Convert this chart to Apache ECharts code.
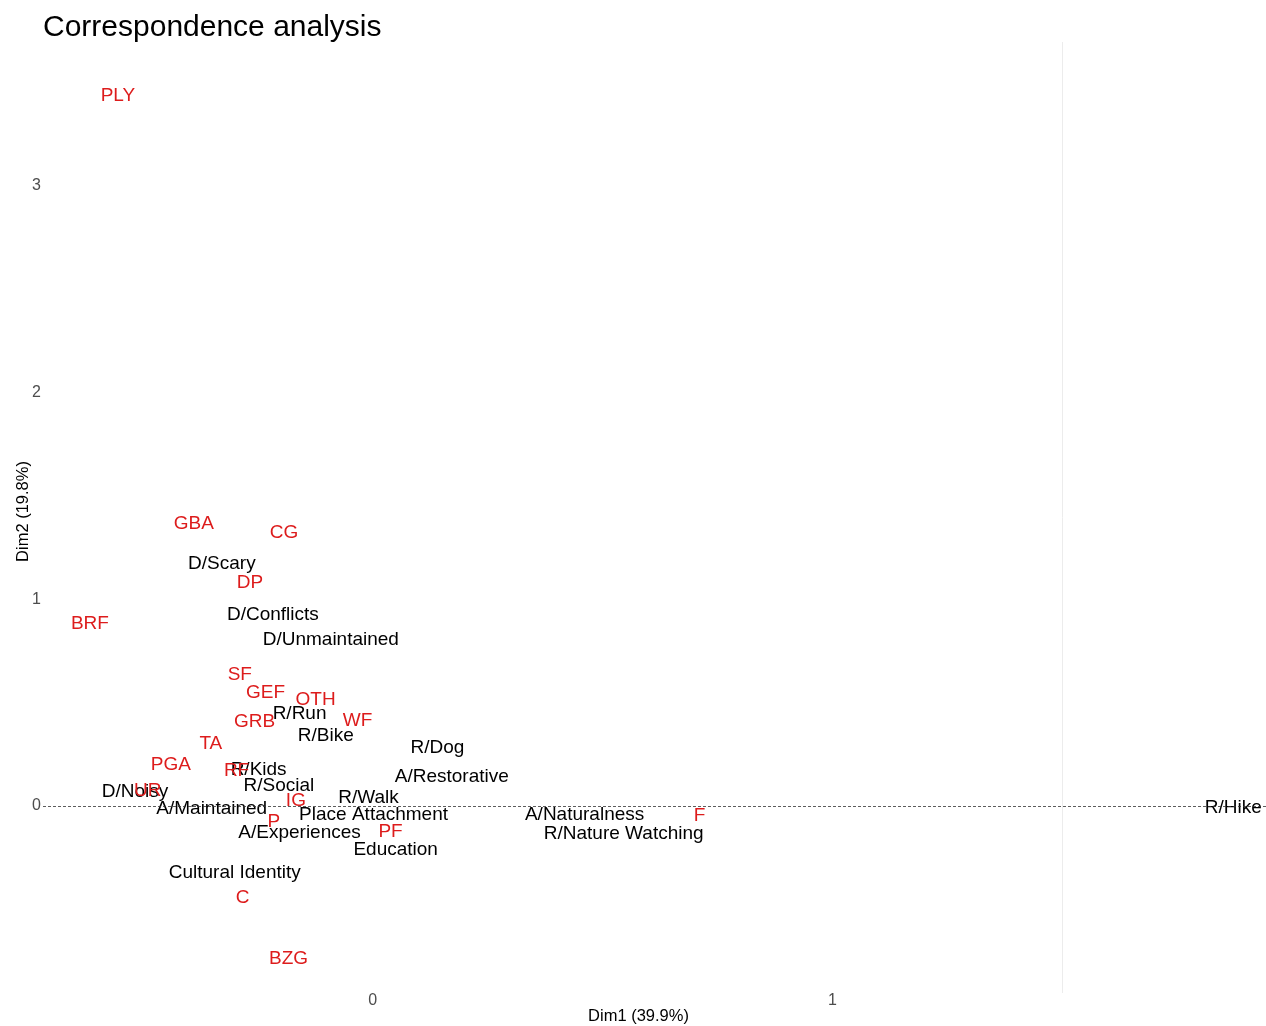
<!DOCTYPE html>
<html>
<head>
<meta charset="utf-8">
<script src="https://cdn.jsdelivr.net/npm/echarts@6/dist/echarts.min.js"></script>
<style>html,body{margin:0;padding:0;background:#fff;}#c{width:1266px;height:1026px;}</style>
</head>
<body>
<div id="c"></div>
<script>
// Red group (row points)
var redLabels = ['PLY','GBA','CG','DP','BRF','SF','GEF','OTH','GRB','WF','TA','PGA','RF','UR','IG','P','PF','F','C','BZG'];
var redDim1 = [-0.554,-0.389,-0.193,-0.267,-0.615,-0.289,-0.233,-0.124,-0.257,-0.033,-0.352,-0.439,-0.296,-0.489,-0.167,-0.215,0.039,0.711,-0.283,-0.183];
var redDim2 = [3.445,1.374,1.330,1.089,0.890,0.643,0.556,0.523,0.416,0.421,0.310,0.208,0.179,0.082,0.034,-0.068,-0.116,-0.039,-0.435,-0.731];
// Black group (column points)
var blackLabels = ['D/Scary','D/Conflicts','D/Unmaintained','R/Run','R/Bike','R/Dog','A/Restorative','R/Kids','R/Social','D/Noisy','R/Walk','A/Maintained','Place Attachment','A/Naturalness','A/Experiences','R/Nature Watching','Education','Cultural Identity','R/Hike'];
var blackDim1 = [-0.328,-0.217,-0.091,-0.159,-0.102,0.141,0.172,-0.248,-0.204,-0.517,-0.009,-0.350,0.002,0.461,-0.159,0.546,0.050,-0.300,1.872];
var blackDim2 = [1.180,0.934,0.813,0.455,0.348,0.290,0.150,0.184,0.106,0.077,0.048,-0.005,-0.034,-0.034,-0.121,-0.126,-0.203,-0.314,0.000];
var xTicks = [0, 1];
var yTicks = [0, 1, 2, 3];

function pts(lbl, xs, ys) {
  return lbl.map(function (l, i) { return { name: l, value: [xs[i], ys[i]] }; });
}
var FONT = 'Liberation Sans, Arial, sans-serif';
function labelCfg(color) {
  return {
    show: true, position: 'inside', align: 'center', verticalAlign: 'middle',
    formatter: '{b}', color: color, fontSize: 19, fontFamily: FONT,
    textBorderWidth: 0, textBorderColor: 'transparent', opacity: 1
  };
}
var chart = echarts.init(document.getElementById('c'), null, { renderer: 'canvas' });
chart.setOption({
  animation: false,
  backgroundColor: '#ffffff',
  title: {
    text: 'Correspondence analysis', left: 43, top: 13, padding: 0,
    textStyle: { fontSize: 30, fontWeight: 'normal', color: '#000', fontFamily: FONT }
  },
  grid: { left: 43, right: 0, top: 42, bottom: 33, containLabel: false, outerBoundsMode: 'none' },
  xAxis: {
    type: 'value', min: -0.717, max: 1.943,
    name: 'Dim1 (39.9%)', nameLocation: 'middle', nameGap: 15, nameMoveOverlap: false,
    nameTextStyle: { fontSize: 16.5, color: '#000', fontFamily: FONT, padding: [0, 32, 0, 0] },
    axisLine: { show: false }, axisTick: { show: false }, splitLine: { show: false },
    axisLabel: { customValues: xTicks, color: '#4d4d4d', fontSize: 16, fontFamily: FONT, margin: 0, verticalAlign: 'top' }
  },
  yAxis: {
    type: 'value', min: -0.905, max: 3.696,
    name: 'Dim2 (19.8%)', nameLocation: 'middle', nameGap: 11, nameMoveOverlap: false,
    nameTextStyle: { fontSize: 16.5, color: '#000', fontFamily: FONT, padding: [0, 0, 0, 12] },
    axisLine: { show: false }, axisTick: { show: false }, splitLine: { show: false },
    axisLabel: { customValues: yTicks, color: '#4d4d4d', fontSize: 16, fontFamily: FONT, margin: 2 }
  },
  series: [
    {
      type: 'scatter', symbolSize: 1, itemStyle: { opacity: 0 }, data: [], silent: true,
      markLine: {
        silent: true, symbol: ['none', 'none'], label: { show: false },
        data: [
          { xAxis: 1.5, lineStyle: { color: '#ececec', type: 'solid', width: 1 } },
          { yAxis: 0, lineStyle: { color: '#333333', type: [3, 2], width: 0.8 } }
        ]
      }
    },
    {
      type: 'scatter', symbolSize: 2, itemStyle: { color: 'rgba(0,0,0,0)' },
      data: pts(blackLabels, blackDim1, blackDim2), label: labelCfg('#000000'),
      labelLayout: { hideOverlap: false, dy: 2 }
    },
    {
      type: 'scatter', symbolSize: 2, itemStyle: { color: 'rgba(0,0,0,0)' },
      data: pts(redLabels, redDim1, redDim2), label: labelCfg('#dd1c1c'),
      labelLayout: { hideOverlap: false, dy: 2 }
    }
  ]
});
</script>
</body>
</html>
